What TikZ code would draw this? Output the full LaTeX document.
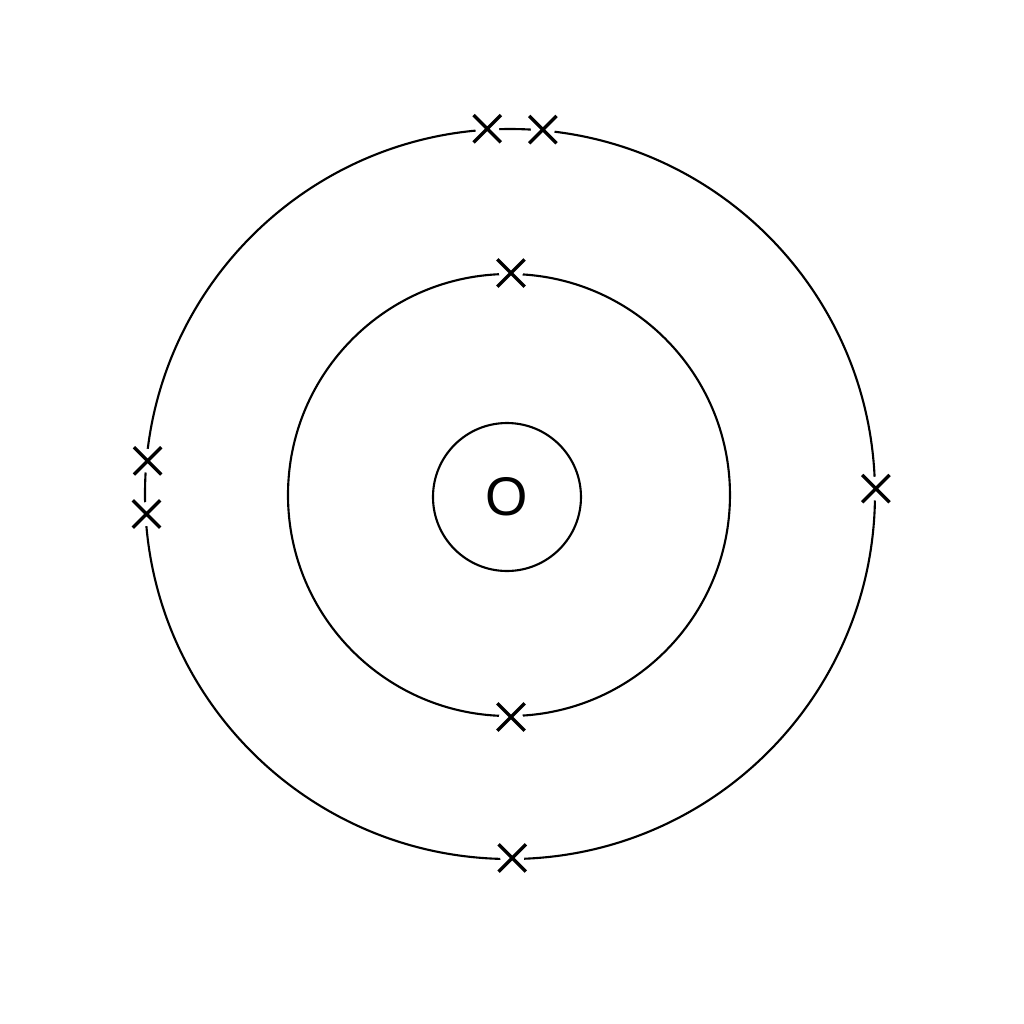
\documentclass[tikz,border=0pt]{standalone}
\usepackage{fontspec}
\setmainfont{Liberation Sans}
\usetikzlibrary{shapes.misc}
\begin{document}
\begin{tikzpicture}[orbit/.style={draw, line width=0.6pt},
    electron/.style={circle, fill=white, inner sep=0pt, minimum size=0.24cm,
      label={[cross out, draw, line width=0.95pt, minimum size=0.24cm, inner sep=0pt]center:{}}},
    nucleus/.style={circle, draw, line width=0.6pt, minimum size=1.48cm, inner sep=0pt, font=\fontsize{15.5}{18}\selectfont}]
  \useasboundingbox (-5.09,-5.29) rectangle (5.15,4.95);

  % shells
  \node[nucleus] (n) at (-0.02,-0.02) {O};
  \draw[orbit] (0,0) circle (2.21);
  \draw[orbit] (0.01,0.01) circle (3.65);

  % first shell
  \node[electron] (1) at (89.5:2.22) {};
  \node[electron] (2) at (270.5:2.22) {};

  % second shell
  \node[electron] (3) at (93.4:3.67) {};
  \node[electron] (4) at (84.7:3.67) {};
  \node[electron] (5) at (174.6:3.63) {};
  \node[electron] (6) at (183:3.63) {};
  \node[electron] (7) at (1:3.67) {};
  \node[electron] (8) at (270.5:3.63) {};
\end{tikzpicture}
\end{document}
